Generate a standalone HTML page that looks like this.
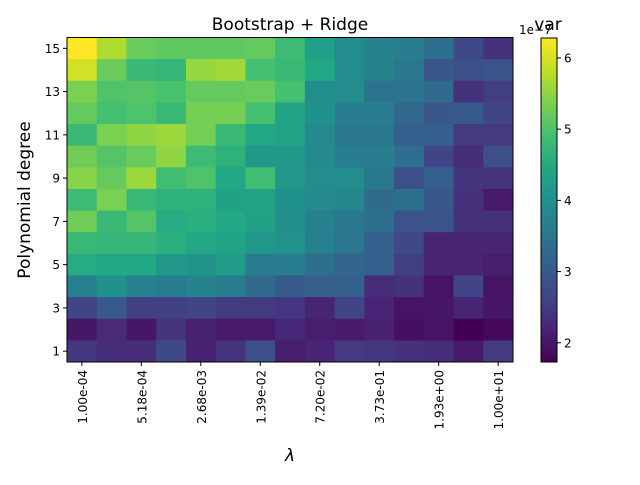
<!DOCTYPE html>
<html><head><meta charset="utf-8"><style>
body{margin:0;background:#fff;font-family:"Liberation Sans","DejaVu Sans",sans-serif}
svg text{font-family:"DejaVu Sans","Liberation Sans",sans-serif}
</style></head><body>
<svg id="chart" width="640" height="480" viewBox="0 0 640 480" xmlns="http://www.w3.org/2000/svg">
<rect width="640" height="480" fill="#fff"/>
<g id="cells"></g>
<rect x="67" y="37.5" width="446" height="324.5" fill="none" stroke="#000" stroke-width="1"/>
<g id="xticks"></g>
<g id="yticks"></g>
<text x="290" y="30" font-size="17" text-anchor="middle">Bootstrap + Ridge</text>
<text x="290" y="461" font-size="17" text-anchor="middle" font-style="italic">λ</text>
<text transform="translate(30,200) rotate(-90)" font-size="17" text-anchor="middle">Polynomial degree</text>
<defs><linearGradient id="vir" x1="0" y1="1" x2="0" y2="0"></linearGradient></defs>
<rect x="541" y="38" width="16" height="324" fill="url(#vir)" stroke="#000" stroke-width="1"/>
<g id="cbticks"></g>
<text x="519" y="34" font-size="12">1e−7</text>
<text x="548" y="30" font-size="17" text-anchor="middle">var</text>
</svg>
<script>
const xTickLabels=["1.00e-04","5.18e-04","2.68e-03","1.39e-02","7.20e-02","3.73e-01","1.93e+00","1.00e+01"];
const degrees=[15,14,13,12,11,10,9,8,7,6,5,4,3,2,1];
const yTickLabels=[1,3,5,7,9,11,13,15];
const cbTicks=[2,3,4,5,6];
const vmin=1.73, vmax=6.28;
const r15=[6.28,5.73,5.23,5.14,5.14,5.14,5.19,4.82,4.28,3.91,3.73,3.64,3.41,2.73,2.37];
const r14=[5.96,5.23,4.78,4.73,5.55,5.64,4.92,4.78,4.46,3.91,3.73,3.55,2.96,2.82,2.87];
const r13=[5.37,5.01,5.05,4.96,5.19,5.19,5.23,4.92,3.91,3.91,3.46,3.46,3.32,2.37,2.55];
const r12=[5.19,4.92,5.01,4.78,5.32,5.32,4.92,4.37,4.01,3.64,3.64,3.28,2.96,3.00,2.64];
const r11=[4.78,5.37,5.51,5.60,5.32,4.78,4.46,4.37,3.87,3.55,3.55,3.10,3.10,2.50,2.50];
const r10=[5.28,5.05,5.23,5.51,4.82,4.64,4.14,4.14,3.87,3.64,3.64,3.37,2.64,2.32,2.82];
const r9=[5.46,5.19,5.60,4.87,5.01,4.46,4.87,4.14,3.91,3.91,3.55,2.82,3.10,2.41,2.41];
const r8=[4.82,5.37,4.78,4.64,4.64,4.32,4.37,4.01,3.87,3.82,3.32,3.41,2.96,2.37,2.05];
const r7=[5.28,4.78,5.05,4.51,4.60,4.46,4.32,3.96,3.69,3.55,3.37,2.87,2.91,2.37,2.37];
const r6=[4.78,4.73,4.73,4.60,4.46,4.37,4.10,4.05,3.69,3.50,3.10,2.73,2.19,2.19,2.19];
const r5=[4.51,4.46,4.46,4.14,4.05,4.23,3.60,3.64,3.37,3.19,3.10,2.55,2.19,2.19,2.09];
const r4=[3.69,4.01,3.69,3.60,3.73,3.60,3.32,3.00,3.10,3.10,2.32,2.37,1.96,2.64,1.96];
const r3=[2.64,3.00,2.59,2.59,2.64,2.50,2.50,2.46,2.19,2.64,2.19,1.96,2.00,2.19,2.00];
const r2=[2.00,2.28,2.00,2.41,2.14,2.05,2.05,2.23,2.09,2.05,2.14,1.91,1.96,1.73,1.82];
const r1=[2.46,2.32,2.32,2.73,2.14,2.41,2.82,2.09,2.19,2.50,2.46,2.37,2.32,2.05,2.50];
const values=[r15,r14,r13,r12,r11,r10,r9,r8,r7,r6,r5,r4,r3,r2,r1];

const NS="http://www.w3.org/2000/svg";
const L=67,R=513,T=37.5,B=362;
const nCols=values[0].length;
const cw=(R-L)/nCols, ch=(B-T)/15;
const xPos=i=>L+i*cw;
const yPos=d=>T+(15-d)*ch;
const vir=["#440154","#482475","#414487","#355f8d","#2a788e","#21918c","#22a884","#44bf70","#7ad151","#bddf26","#fde725"];
function hex(h){return [1,3,5].map(i=>parseInt(h.substr(i,2),16));}
function cmap(v){let f=Math.max(0,Math.min(1,(v-vmin)/(vmax-vmin)))*10;let i=Math.min(9,Math.floor(f));let t=f-i;
 const a=hex(vir[i]),b=hex(vir[i+1]);return "rgb("+a.map((x,k)=>Math.round(x+(b[k]-x)*t)).join(",")+")";}
function el(tag,attrs,parent){const e=document.createElementNS(NS,tag);for(const k in attrs)e.setAttribute(k,attrs[k]);parent.appendChild(e);return e;}
const cells=document.getElementById("cells");
values.forEach((row,ri)=>{row.forEach((v,ci)=>{
 const r=el("rect",{x:xPos(ci),y:yPos(degrees[ri]),width:cw+0.5,height:ch+0.5,fill:cmap(v)},cells);
 
 
});});
const xt=document.getElementById("xticks");
xTickLabels.forEach((lab,i)=>{
 const x=xPos(i*2)+cw/2;
 el("line",{x1:x,x2:x,y1:B,y2:B+4,stroke:"#000"},xt);
 const t=el("text",{transform:`translate(${x+5},${B+8}) rotate(-90)`,"font-size":"12","text-anchor":"end"},xt);
 t.textContent=lab;
 
 
});
const yt=document.getElementById("yticks");
yTickLabels.forEach(d=>{
 const y=yPos(d)+ch/2;
 el("line",{x1:L-4,x2:L,y1:y,y2:y,stroke:"#000"},yt);
 const t=el("text",{x:L-7,y:y+4.5,"font-size":"12","text-anchor":"end"},yt);
 t.textContent=d;
 
 
});
const g=document.getElementById("vir");
vir.forEach((c,i)=>el("stop",{offset:(i*10)+"%","stop-color":c},g));
const cb=document.getElementById("cbticks");
cbTicks.forEach(v=>{
 const y=362-(v-vmin)/(vmax-vmin)*324;
 el("line",{x1:557,x2:561,y1:y,y2:y,stroke:"#000"},cb);
 const t=el("text",{x:564,y:y+4.5,"font-size":"12"},cb);
 t.textContent=v;
 
 
});
</script>
</body></html>
